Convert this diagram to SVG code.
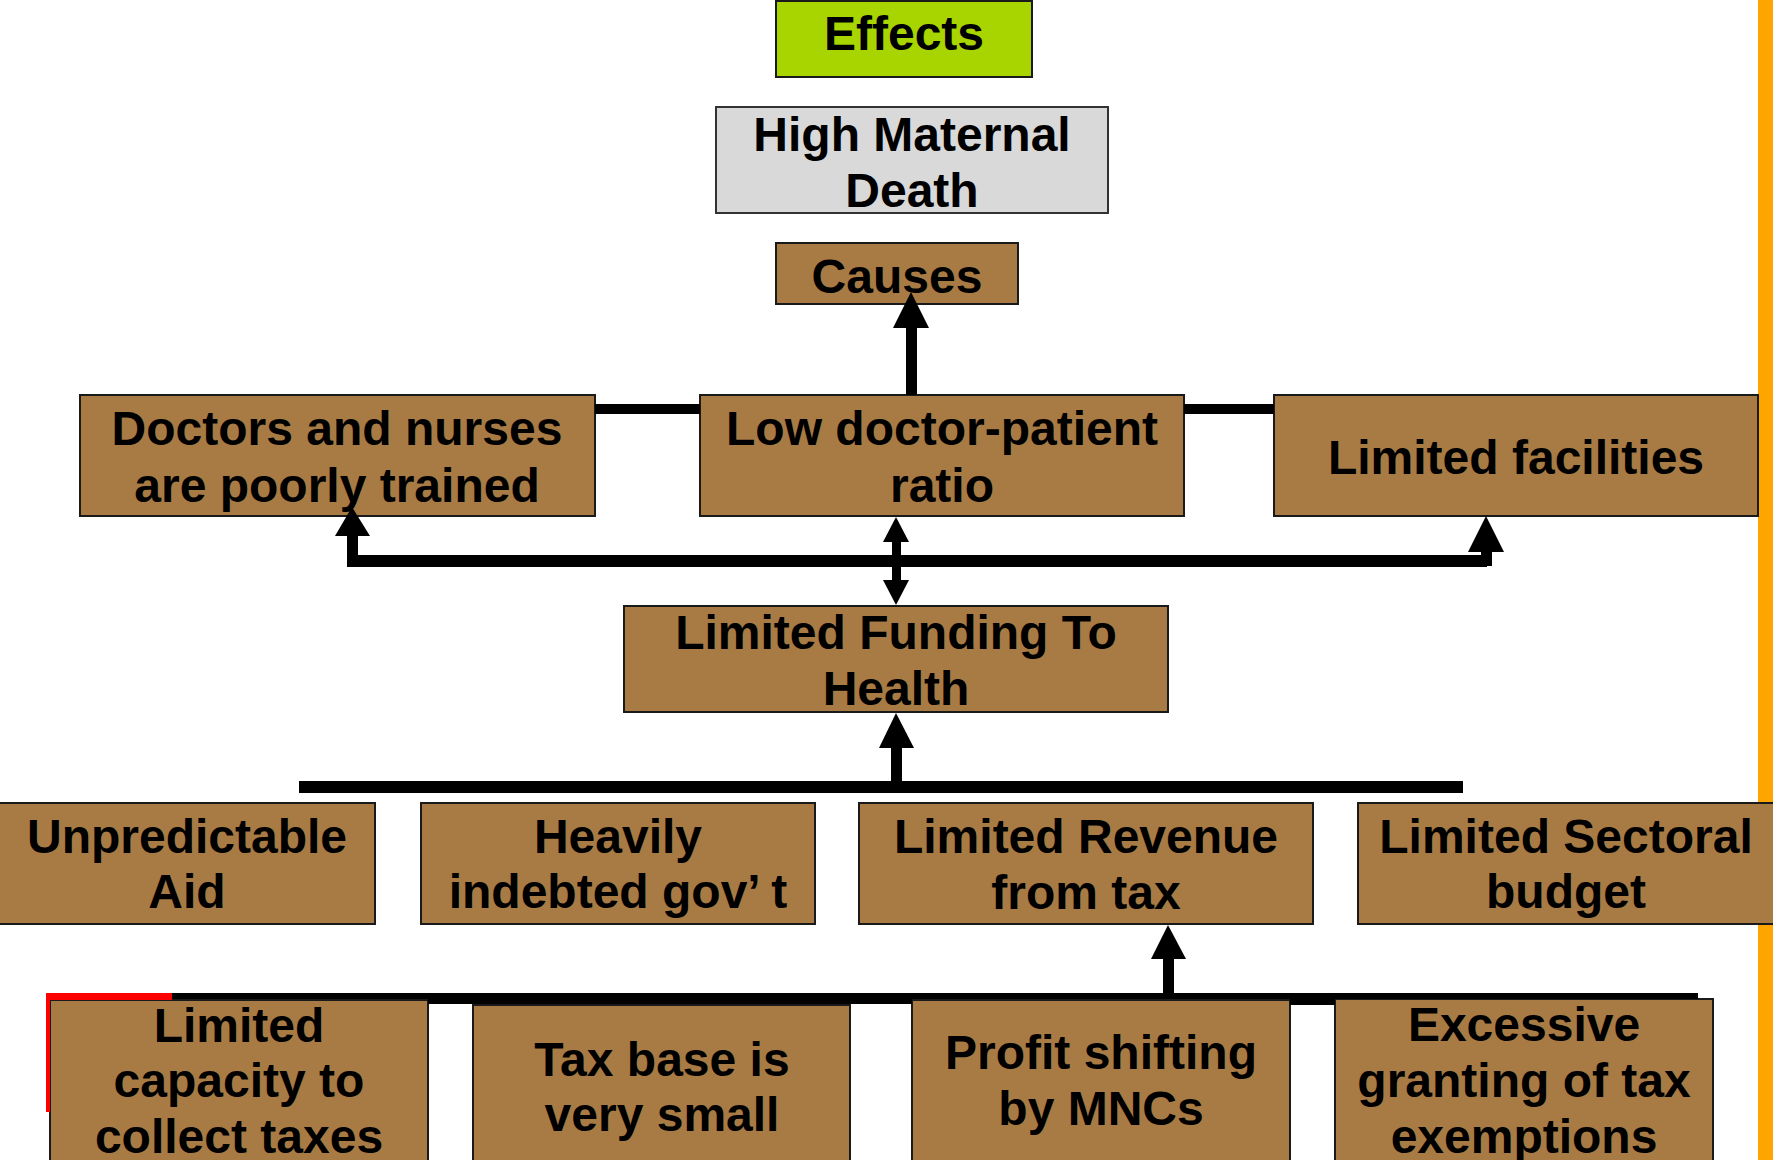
<svg xmlns="http://www.w3.org/2000/svg" width="1773" height="1160" viewBox="0 0 1773 1160">
<style>
.box{fill:#a97b44;stroke:#1a1a1a;stroke-width:2}
.effects{fill:#a8d400;stroke:#1a1a1a;stroke-width:2}
.grey{fill:#d9d9d9;stroke:#333;stroke-width:2}
text{font-family:"Liberation Sans",Arial,sans-serif;font-weight:bold;font-size:48px;fill:#000;text-anchor:middle}
.ln{fill:#000}
</style>
<rect x="1758" y="0" width="15" height="1160" fill="#ffa500"/>

<g id="effects"><rect class="effects" x="776" y="1" width="256" height="76"/><text x="904" y="50">Effects</text></g>
<g id="high-maternal-death"><rect class="grey" x="716" y="107" width="392" height="106"/><text x="912" y="151">High Maternal</text><text x="912" y="207">Death</text></g>
<g id="causes"><rect class="box" x="776" y="243" width="242" height="61"/><text x="897" y="293">Causes</text></g>

<g id="doctors-nurses"><rect class="box" x="80" y="395" width="515" height="121"/><text x="337" y="445">Doctors and nurses</text><text x="337" y="502">are poorly trained</text></g>
<g id="low-ratio"><rect class="box" x="700" y="395" width="484" height="121"/><text x="942" y="445">Low doctor-patient</text><text x="942" y="502">ratio</text></g>
<g id="limited-facilities"><rect class="box" x="1274" y="395" width="484" height="121"/><text x="1516" y="474">Limited facilities</text></g>

<g id="limited-funding"><rect class="box" x="624" y="606" width="544" height="106"/><text x="896" y="649">Limited Funding To</text><text x="896" y="705">Health</text></g>

<g id="unpredictable-aid"><rect class="box" x="-1" y="803" width="376" height="121"/><text x="187" y="853">Unpredictable</text><text x="187" y="908">Aid</text></g>
<g id="heavily-indebted"><rect class="box" x="421" y="803" width="394" height="121"/><text x="618" y="853">Heavily</text><text x="618" y="908">indebted gov’ t</text></g>
<g id="limited-revenue"><rect class="box" x="859" y="803" width="454" height="121"/><text x="1086" y="853">Limited Revenue</text><text x="1086" y="909">from tax</text></g>
<g id="limited-sectoral"><rect class="box" x="1358" y="803" width="416" height="121"/><text x="1566" y="853">Limited Sectoral</text><text x="1566" y="908">budget</text></g>

<g id="limited-capacity"><rect class="box" x="50" y="1000" width="378" height="170"/><text x="239" y="1042">Limited</text><text x="239" y="1097">capacity to</text><text x="239" y="1153">collect taxes</text></g>
<g id="tax-base"><rect class="box" x="473" y="1005" width="377" height="165"/><text x="662" y="1076">Tax base is</text><text x="662" y="1131">very small</text></g>
<g id="profit-shifting"><rect class="box" x="912" y="1000" width="378" height="170"/><text x="1101" y="1069">Profit shifting</text><text x="1101" y="1125">by MNCs</text></g>
<g id="excessive-exemptions"><rect class="box" x="1335" y="999" width="378" height="171"/><text x="1524" y="1041">Excessive</text><text x="1524" y="1097">granting of tax</text><text x="1524" y="1153">exemptions</text></g>

<g id="connectors">
<rect class="ln" x="595" y="404" width="105" height="10"/>
<rect class="ln" x="1184" y="404" width="90" height="10"/>
<rect class="ln" x="906" y="326" width="11" height="69"/>
<polygon class="ln" points="911,292 929,328 893,328"/>
<rect class="ln" x="352" y="555" width="1135" height="12"/>
<rect class="ln" x="347" y="534" width="11" height="33"/>
<polygon class="ln" points="352,507 370,536 335,536"/>
<rect class="ln" x="1481" y="550" width="11" height="16"/>
<polygon class="ln" points="1486,516 1504,552 1468,552"/>
<rect class="ln" x="892" y="540" width="9" height="42"/>
<polygon class="ln" points="896,517 909,542 883,542"/>
<polygon class="ln" points="896,605 909,580 883,580"/>
<rect class="ln" x="299" y="781" width="1164" height="12"/>
<rect class="ln" x="891" y="746" width="11" height="36"/>
<polygon class="ln" points="896,713 914,748 879,748"/>
<rect class="ln" x="46" y="993" width="1652" height="6"/>
<rect class="ln" x="428" y="999" width="484" height="5"/>
<rect class="ln" x="1290" y="999" width="45" height="6"/>
<rect class="ln" x="1163" y="957" width="11" height="37"/>
<polygon class="ln" points="1168,925 1186,959 1151,959"/>
<rect x="46" y="993" width="126" height="7" fill="#ff0000"/>
<rect x="46" y="993" width="4" height="119" fill="#ff0000"/>
</g>
</svg>
